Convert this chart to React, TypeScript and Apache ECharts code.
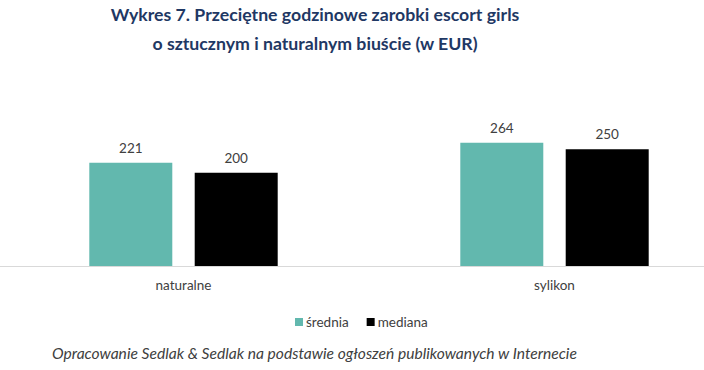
import React, { useEffect, useRef } from "react";
import * as echarts from "echarts";

const categories = ["naturalne", "sylikon"];
const seriesNames = ["średnia", "mediana"];
const sredniaValues = [221, 264];
const medianaValues = [200, 250];
const titleLines = [
  "Wykres 7. Przeciętne godzinowe zarobki escort girls",
  "o sztucznym i naturalnym biuście (w EUR)",
];
const sourceNote = "Opracowanie Sedlak & Sedlak na podstawie ogłoszeń publikowanych w Internecie";

const FONT = "Lato, 'Open Sans', sans-serif";

export default function App() {
  const ref = useRef<HTMLDivElement>(null);
  useEffect(() => {
    if (!ref.current) return;
    const chart = echarts.init(ref.current, null, { renderer: "svg" });
    chart.setOption({
      animation: false,
      backgroundColor: "#ffffff",
      title: {
        text: titleLines.join("\n"),
        left: 315,
        top: 0,
        padding: 0,
        textAlign: "center",
        textStyle: {
          fontFamily: FONT,
          fontWeight: "bold",
          fontSize: 17.7,
          color: "#1F3864",
          lineHeight: 29,
        },
      },
      grid: {
        left: -2,
        width: 742,
        top: 126,
        height: 140,
        containLabel: false,
        outerBoundsMode: "none",
      },
      xAxis: {
        type: "category",
        data: categories,
        axisLine: { show: true, lineStyle: { color: "#d9d9d9", width: 1 } },
        axisTick: { show: false },
        axisLabel: { fontFamily: FONT, fontSize: 13.5, color: "#404040", margin: 12 },
      },
      yAxis: {
        type: "value",
        min: 0,
        max: 300,
        show: false,
        splitLine: { show: false },
      },
      legend: {
        data: seriesNames,
        left: 290,
        top: 310,
        itemWidth: 8,
        itemHeight: 8,
        itemGap: 18,
        icon: "rect",
        textStyle: { fontFamily: FONT, fontSize: 13.5, color: "#404040", padding: [0, 0, 0, -2] },
      },
      series: [
        {
          name: seriesNames[0],
          type: "bar",
          data: sredniaValues,
          barWidth: 83,
          barGap: "27%",
          itemStyle: { color: "#62B8AE" },
          label: { show: true, position: "top", distance: 8, fontFamily: FONT, fontSize: 13.5, color: "#404040" },
        },
        {
          name: seriesNames[1],
          type: "bar",
          data: medianaValues,
          barWidth: 83,
          barGap: "27%",
          itemStyle: { color: "#000000" },
          label: { show: true, position: "top", distance: 8, fontFamily: FONT, fontSize: 13.5, color: "#404040" },
        },
      ],
      graphic: [
        {
          type: "text",
          left: 52,
          top: 345,
          style: {
            text: sourceNote,
            fontFamily: FONT,
            fontStyle: "italic",
            fontSize: 15.6,
            fill: "#404040",
          },
        },
      ],
    });
    return () => chart.dispose();
  }, []);
  return <div ref={ref} style={{ width: 704, height: 370, position: "absolute", left: 0, top: 0 }} />;
}
